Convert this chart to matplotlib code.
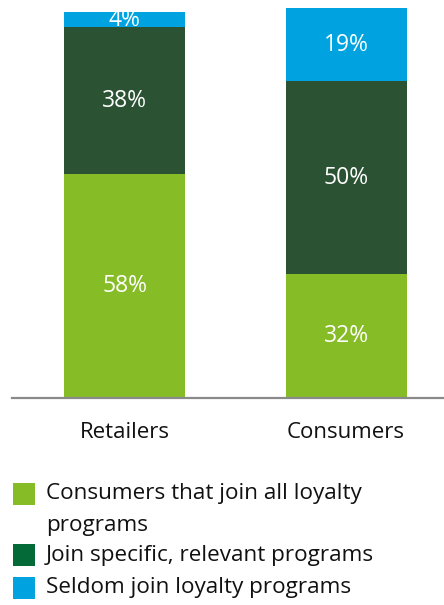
import matplotlib.pyplot as plt
from matplotlib.patches import Rectangle

plt.rcParams['font.family'] = ['Open Sans', 'DejaVu Sans']

groups = ['Retailers', 'Consumers']
join_all = [58, 32]
join_specific = [38, 50]
seldom = [4, 19]
series_labels = ['Consumers that join all loyalty\nprograms',
                 'Join specific, relevant programs',
                 'Seldom join loyalty programs']

c_light = '#86BC25'
c_dark = '#2C5234'
c_dark_legend = '#046A38'
c_blue = '#00A3E0'

fig = plt.figure(figsize=(4.44, 6.05), dpi=100)
ax = fig.add_axes([12 / 444, 207 / 605, 432 / 444, 390 / 605])

x = range(len(groups))
w = 0.546
bottoms = [0] * len(groups)
for vals, col in [(join_all, c_light), (join_specific, c_dark), (seldom, c_blue)]:
    bars = ax.bar(x, vals, w, bottom=bottoms, color=col, zorder=2)
    ax.bar_label(bars, labels=['{}%'.format(v) for v in vals], label_type='center',
                 color='white', fontsize=16.5)
    bottoms = [b + v for b, v in zip(bottoms, vals)]

ax.set_xlim(-0.508, 1.442)
ax.set_ylim(0, 101)
ax.set_xticks(list(x))
ax.set_xticklabels(groups, fontsize=16, color='#111111')
ax.tick_params(axis='x', length=0, pad=17)
ax.set_yticks([])
for s in ['top', 'right', 'left']:
    ax.spines[s].set_visible(False)
ax.spines['bottom'].set_color('#8a8a8a')
ax.spines['bottom'].set_linewidth(1.6)

# legend
leg = [(series_labels[0], c_light, 494), (series_labels[1], c_dark_legend, 555),
       (series_labels[2], c_blue, 588)]
for label, col, yc in leg:
    fig.patches.append(Rectangle((13 / 444, (605 - yc - 11) / 605), 22 / 444, 22 / 605,
                                 transform=fig.transFigure, facecolor=col, edgecolor='none'))
    fig.text(46 / 444, (605 - yc) / 605, label.split('\n')[0], fontsize=16.2,
             va='center', ha='left', color='#111111')
    if '\n' in label:
        fig.text(46 / 444, (605 - yc - 31) / 605, label.split('\n')[1], fontsize=16.2,
                 va='center', ha='left', color='#111111')

fig.savefig('out.png', dpi=100)
